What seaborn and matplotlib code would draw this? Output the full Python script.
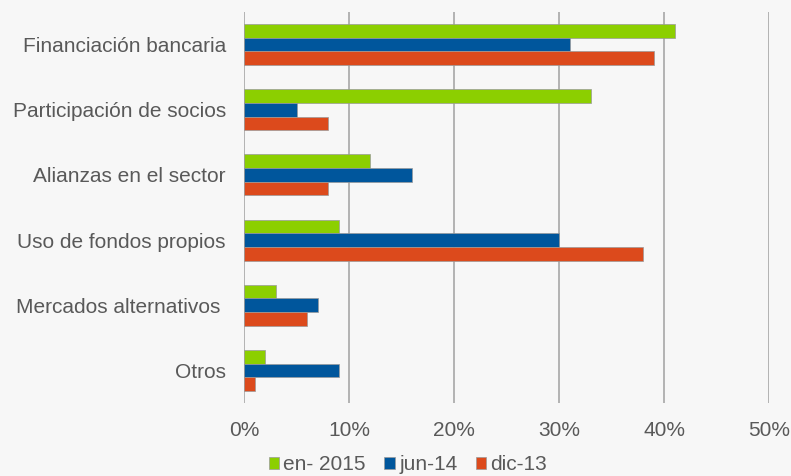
import matplotlib
matplotlib.use("Agg")
import matplotlib.pyplot as plt
import seaborn as sns
import pandas as pd
from matplotlib.ticker import FuncFormatter
from matplotlib.patches import Patch

categories = [
    "Financiación bancaria",
    "Participación de socios",
    "Alianzas en el sector",
    "Uso de fondos propios",
    "Mercados alternativos ",
    "Otros",
]
series = ["en- 2015", "jun-14", "dic-13"]
en_2015 = [41, 33, 12, 9, 3, 2]
jun_14 = [31, 5, 16, 30, 7, 9]
dic_13 = [39, 8, 8, 38, 6, 1]
x_ticks = [0, 10, 20, 30, 40, 50]

colors = ["#8ccf00", "#00569c", "#dc4a1c"]
bg = "#f7f7f7"
text_color = "#595959"

rows = []
for name, vals in zip(series, [en_2015, jun_14, dic_13]):
    for cat, v in zip(categories, vals):
        rows.append({"Fuente": cat, "Periodo": name, "Valor": v})
df = pd.DataFrame(rows)

sns.set_theme(style="white")
plt.rcParams["font.family"] = ["Liberation Sans", "DejaVu Sans"]

fig = plt.figure(figsize=(7.91, 4.76), dpi=100, facecolor=bg)
ax = fig.add_axes([244 / 791, 1 - 403 / 476, (769 - 244) / 791, (403 - 12) / 476])
ax.set_facecolor(bg)

sns.barplot(
    data=df, y="Fuente", x="Valor", hue="Periodo", order=categories,
    hue_order=series, palette=colors, saturation=1, orient="h", width=0.63,
    edgecolor="#9a9a9a", linewidth=0.5, legend=False, ax=ax,
)

ax.set_xlim(0, 50)
ax.set_xticks(x_ticks)
ax.xaxis.set_major_formatter(FuncFormatter(lambda v, _: f"{v:.0f}%"))
ax.grid(axis="x", color="#b3b3b3", linewidth=1.4)
ax.set_axisbelow(True)
for side in ["top", "right", "bottom", "left"]:
    ax.spines[side].set_visible(False)
ax.set_xlabel("")
ax.set_ylabel("")
ax.tick_params(axis="both", length=0, labelsize=15, labelcolor=text_color)
ax.tick_params(axis="x", pad=13)
ax.tick_params(axis="y", pad=13)

handles = [Patch(facecolor=c, edgecolor="#9a9a9a", linewidth=0.5) for c in colors]
fig.legend(
    handles, series, loc="center", bbox_to_anchor=(408 / 791, 1 - 465 / 476),
    ncol=3, frameon=False, fontsize=15, labelcolor=text_color,
    handlelength=0.5, handleheight=0.5, handletextpad=0.2, columnspacing=0.9,
)

fig.savefig("out.png", dpi=100, facecolor=bg)
